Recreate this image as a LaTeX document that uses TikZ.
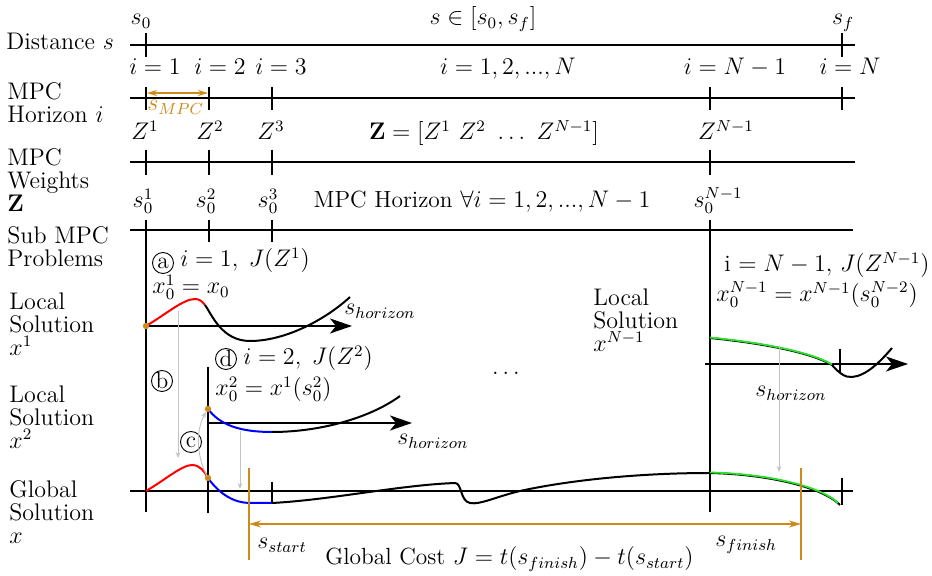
\documentclass[tikz,border=0pt]{standalone}
\usetikzlibrary{arrows.meta}
\definecolor{mpcorange}{RGB}{205,138,25}
\definecolor{mpcgreen}{RGB}{40,225,40}
\definecolor{mpcgray}{RGB}{195,195,195}
\begin{document}
\begin{tikzpicture}[x=0.5pt,y=-0.5pt,
  lbl/.style={inner sep=0pt, font=\fontsize{11.7}{11.6}\selectfont},
  side/.style={lbl, align=left, anchor=north west, font=\fontsize{12}{11.6}\selectfont},
  axis/.style={line width=1pt},
  tickmark/.style={line width=1pt},
  thinax/.style={line width=0.55pt},
  circ/.style={circle, draw, line width=0.45pt, inner sep=0pt, minimum size=10.5pt, font=\fontsize{11.7}{11.6}\selectfont},
  hor/.style={line width=1pt, -{Stealth[length=11pt,width=7.5pt,inset=3pt]}},
  gar/.style={draw=mpcgray, line width=0.45pt, -{Stealth[length=3pt,width=2.4pt]}},
  oar/.style={draw=mpcorange, line width=0.8pt},
  crv/.style={line width=1pt},
  dot/.style={circle, fill=mpcorange, inner sep=0pt, minimum size=3.2pt}
]
\fill[white] (0,0) rectangle (932,576);
\useasboundingbox (0,0) rectangle (932,576);

% ---------- left labels ----------
\node[lbl, anchor=base west, font=\fontsize{12}{11.6}\selectfont] (lDist) at (6,50) {Distance $s$};
\node[side] (lHor) at (7,82) {MPC\\Horizon $i$};
\node[side] (lW) at (7,148) {MPC\\Weights\\$\mathbf{Z}$};
\node[side] (lSub) at (7,226) {Sub MPC\\Problems};
\node[side] (lX1) at (9,292) {Local\\Solution\\$x^1$};
\node[side] (lX2) at (9,385) {Local\\Solution\\$x^2$};
\node[side] (lG) at (9,480) {Global\\Solution\\$x$};
\node[side] (lXN) at (593,288) {Local\\Solution\\$x^{N-1}$};

% ---------- distance row ----------
\coordinate (dA) at (130,45); \coordinate (dB) at (855,45);
\draw[axis] (dA) -- (dB);
\draw[tickmark] (146,33) -- (146,57);
\draw[tickmark] (842,33) -- (842,57);
\node[lbl, anchor=base] (ts0) at (141,25) {$s_0$};
\node[lbl, anchor=base] (tsr) at (483,25) {$s\in[s_0,s_f]$};
\node[lbl, anchor=base] (tsf) at (843,25) {$s_f$};

% ---------- horizon row ----------
\coordinate (hA) at (130,98); \coordinate (hB) at (855,98);
\draw[axis] (hA) -- (hB);
\foreach \xx in {146,209,272,710,842} \draw[tickmark] (\xx,87) -- (\xx,110);
\node[lbl, anchor=base] (i1) at (155,75) {$i=1$};
\node[lbl, anchor=base] (i2) at (220,75) {$i=2$};
\node[lbl, anchor=base] (i3) at (281,75) {$i=3$};
\node[lbl, anchor=base] (iall) at (508,75) {$i=1,2,...,N$};
\node[lbl, anchor=base] (iNm) at (735,75) {$i=N-1$};
\node[lbl, anchor=base] (iN) at (850,75) {$i=N$};
\coordinate (mA) at (147,93); \coordinate (mB) at (208,93);
\draw[oar, {Stealth[length=5pt,width=3pt]}-{Stealth[length=5pt,width=3pt]}] (mA) -- (mB);
\node[lbl, text=mpcorange, anchor=base west] (smpc) at (147,111) {$s_{MPC}$};

% ---------- weights row ----------
\coordinate (wA) at (130,162); \coordinate (wB) at (855,162);
\draw[axis] (wA) -- (wB);
\foreach \xx in {146,209,272,710} \draw[tickmark] (\xx,150) -- (\xx,175);
\node[lbl, anchor=base] (z1) at (145,140) {$Z^1$};
\node[lbl, anchor=base] (z2) at (210,140) {$Z^2$};
\node[lbl, anchor=base] (z3) at (271,140) {$Z^3$};
\node[lbl, anchor=base] (zall) at (484,140) {$\mathbf{Z}=[Z^1\ Z^2\ \ldots\ Z^{N-1}]$};
\node[lbl, anchor=base] (zN) at (726,140) {$Z^{N-1}$};

% ---------- sub MPC row ----------
\node[lbl, anchor=base] (s01) at (143,208) {$s_0^1$};
\node[lbl, anchor=base] (s02) at (206,208) {$s_0^2$};
\node[lbl, anchor=base] (s03) at (268,208) {$s_0^3$};
\node[lbl, anchor=base] (sall) at (482,208) {MPC Horizon $\forall i=1,2,...,N-1$};
\node[lbl, anchor=base] (s0N) at (718,208) {$s_0^{N-1}$};
\coordinate (sA) at (130,230); \coordinate (sB) at (853,230);
\draw[thinax] (sA) -- (sB);
\draw[tickmark] (209,220) -- (209,242);
\draw[tickmark] (272,220) -- (272,242);
\draw[tickmark] (146,220) -- (146,512);
\draw[tickmark] (710,220) -- (710,512);
\draw[tickmark] (208,367) -- (208,513);

% ---------- local solution x^1 ----------
\node[circ] (ca) at (163,263) {a};
\node[lbl, anchor=base west] (t1) at (180,267) {$i=1,\;J(Z^1)$};
\node[lbl, anchor=base west] (t1b) at (152,294) {$x_0^1=x_0$};
\coordinate (x1o) at (146,326); \coordinate (x1e) at (352,326);
\draw[hor] (x1o) -- (x1e);
\node[lbl, anchor=base west] (sh1) at (344,315) {$s_{horizon}$};
\draw[crv, red] (146,326) .. controls (165,315) and (183,299) .. (195,299)
   .. controls (199,299) and (202,301) .. (205,305);
\draw[crv] (205,305) .. controls (212,315) and (222,341) .. (250,341)
   .. controls (285,341) and (325,320) .. (350,297);
\node[dot] (d1) at (x1o) {};

% ---------- local solution x^2 ----------
\node[circ] (cd) at (226,359) {d};
\node[lbl, anchor=base west] (t2) at (243,365) {$i=2,\;J(Z^2)$};
\node[lbl, anchor=base west] (t2b) at (215,396) {$x_0^2=x^1(s_0^2)$};
\coordinate (x2o) at (208,423); \coordinate (x2e) at (412,423);
\draw[hor] (x2o) -- (x2e);
\node[lbl, anchor=base west] (sh2) at (397,445) {$s_{horizon}$};
\draw[crv, blue] (208,409) .. controls (220,425) and (240,432) .. (272,432);
\draw[crv] (272,432) .. controls (320,432) and (370,418) .. (400,396);
\node[dot] (d2) at (208,409) {};
\node[circ] (cb) at (162,381) {b};
\node[circ] (cc) at (191,442) {c};

% ---------- local solution x^{N-1} ----------
\node[lbl, anchor=base west] (tN) at (724,272) {i $=N-1,\,J(Z^{N-1})$};
\node[lbl, anchor=base west] (tNb) at (716,302) {$x_0^{N-1}=x^{N-1}(s_0^{N-2})$};
\coordinate (xNo) at (705,364); \coordinate (xNe) at (908,364);
\draw[hor] (xNo) -- (xNe);
\draw[tickmark] (840,349) -- (840,372);
\node[lbl, anchor=base west] (sh3) at (755,397) {$s_{horizon}$};
\draw[crv] (710,338) .. controls (760,343) and (810,352) .. (832,365)
   .. controls (838,372) and (845,378) .. (852,377)
   .. controls (866,376) and (880,362) .. (892,348);
\draw[line width=0.9pt, mpcgreen] (710,337.5) .. controls (760,342.5) and (810,351.5) .. (832,364.5);
\node[lbl, anchor=base] (dots) at (506,375) {$\ldots$};

% ---------- global solution ----------
\coordinate (gA) at (130,491); \coordinate (gB) at (853,491);
\draw[axis] (gA) -- (gB);
\draw[tickmark] (272,482) -- (272,503);
\draw[tickmark] (842,478) -- (842,505);
\draw[crv, red] (146,491) .. controls (165,480) and (182,465) .. (192,465)
   .. controls (200,465) and (205,472) .. (208,478);
\draw[crv, blue] (208,478) .. controls (220,495) and (235,503) .. (250,503) -- (272,503);
\draw[crv] (272,503) .. controls (330,500) and (400,485) .. (455,483)
   .. controls (462,483) and (460,501) .. (470,503)
   .. controls (480,505) and (495,497) .. (520,491)
   .. controls (570,480) and (640,473) .. (710,473)
   .. controls (760,474) and (820,485) .. (840,505);
\draw[line width=0.9pt, mpcgreen] (710,472.5) .. controls (760,473.5) and (818,484) .. (838,503);
\node[dot] (d3) at (208,478) {};

% ---------- transfer arrows ----------
\coordinate (bT) at (178,311); \coordinate (bB) at (178,458);
\draw[gar] (bT) -- (bB);
\coordinate (cT) at (206,412); \coordinate (cB) at (207,476);
\draw[gar] (cB) .. controls (196,455) and (196,430) .. (cT);
\coordinate (eT) at (240,431); \coordinate (eB) at (240,489);
\draw[gar] (eT) -- (eB);
\coordinate (fT) at (779,346); \coordinate (fB) at (779,472);
\draw[gar] (fT) -- (fB);

% ---------- global cost ----------
\coordinate (oS) at (249,524); \coordinate (oF) at (801,524);
\draw[oar] (249,468) -- (249,560);
\draw[oar] (801,468) -- (801,560);
\draw[oar, {Stealth[length=6pt,width=3.5pt]}-{Stealth[length=6pt,width=3.5pt]}] (oS) -- (oF);
\node[lbl, anchor=base west] (sst) at (257,549) {$s_{start}$};
\node[lbl, anchor=base west] (sfi) at (715,547) {$s_{finish}$};
\node[lbl, anchor=base west] (gc) at (325,565) {Global Cost $J=t(s_{finish})-t(s_{start})$};
\end{tikzpicture}
\end{document}
